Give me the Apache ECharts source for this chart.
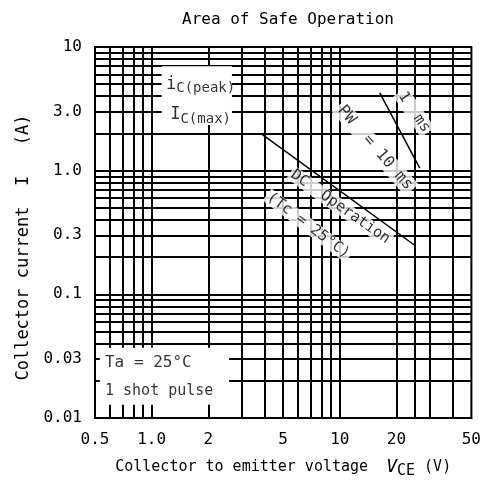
<!DOCTYPE html>
<html>
<head>
<meta charset="utf-8">
<script src="https://cdn.jsdelivr.net/npm/echarts@6/dist/echarts.min.js"></script>
<style>
html, body { margin: 0; padding: 0; background: #fff; }
#chart { width: 484px; height: 488px; }
</style>
</head>
<body>
<div id="chart"></div>
<script>
// tick labels
const xTicks = [0.5, 1, 2, 5, 10, 20, 50];
const xTickLabels = ['0.5', '1.0', '2', '5', '10', '20', '50'];
const yTicks = [0.01, 0.03, 0.1, 0.3, 1, 3, 10];
const yTickLabels = ['0.01', '0.03', '0.1', '0.3', '1.0', '3.0', '10'];

// grid lines of the printed log paper
const xGrid = [0.6, 0.7, 0.8, 0.9, 1, 2, 3, 4, 5, 6, 7, 8, 9, 10, 20, 25, 30, 40];
const yGrid = [0.02, 0.03, 0.04, 0.05, 0.06, 0.07, 0.08, 0.09, 0.1,
  0.2, 0.3, 0.4, 0.5, 0.6, 0.7, 0.8, 0.9, 1,
  2, 3, 4, 5, 6, 7, 8, 9];

// SOA boundaries (V, A)
const dcOperation = [[3.8, 2.0], [25.3, 0.246]];
const pulse1ms = [[16.3, 4.25], [26.6, 1.05]];

const FONT = "'DejaVu Sans Mono', monospace";

function pickLabel(v, ticks, labels) {
  let best = 0;
  for (let i = 1; i < ticks.length; i++) {
    if (Math.abs(Math.log10(ticks[i]) - Math.log10(v)) < Math.abs(Math.log10(ticks[best]) - Math.log10(v))) best = i;
  }
  return labels[best];
}

const chart = echarts.init(document.getElementById('chart'));

const subRich = {
  i: { fontSize: 17, fontFamily: FONT, color: '#000' },
  s: { fontSize: 14, fontFamily: FONT, color: '#000', padding: [9, 0, 0, 0] }
};

const option = {
  animation: false,
  backgroundColor: '#fff',
  textStyle: { fontFamily: FONT },
  title: {
    text: 'Area of Safe Operation',
    left: 283, top: 7, textAlign: 'center',
    textStyle: { fontSize: 16, fontWeight: 'normal', color: '#000', fontFamily: FONT }
  },
  grid: {
    left: 95, right: 10, top: 47, bottom: 70,
    show: true, borderColor: '#000', borderWidth: 2, backgroundColor: 'transparent'
  },
  xAxis: {
    type: 'log', logBase: 10, min: 0.5, max: 50,
    name: '{a|Collector to emitter voltage  }{v|V}{s|CE}{a| (V)}',
    nameLocation: 'middle', nameGap: 38,
    nameTextStyle: {
      rich: {
        a: { fontSize: 15, color: '#000', fontFamily: FONT },
        v: { fontSize: 18, color: '#000', fontFamily: FONT, fontStyle: 'italic' },
        s: { fontSize: 15, color: '#000', fontFamily: FONT, padding: [8, 0, 0, 0] }
      }
    },
    axisLine: { show: true, lineStyle: { color: '#000', width: 2 } },
    axisTick: { show: false },
    splitLine: { show: false },
    axisLabel: {
      customValues: xTicks, margin: 14, fontSize: 16, color: '#000', fontFamily: FONT,
      formatter: v => pickLabel(v, xTicks, xTickLabels)
    }
  },
  yAxis: {
    type: 'log', logBase: 10, min: 0.01, max: 10,
    name: 'Collector current  I   (A)',
    nameLocation: 'middle', nameGap: 60,
    nameTextStyle: { fontSize: 17, color: '#000', fontFamily: FONT, padding: [0, 0, 0, -30] },
    axisLine: { show: true, lineStyle: { color: '#000', width: 2 } },
    axisTick: { show: false },
    splitLine: { show: false },
    axisLabel: {
      customValues: yTicks, margin: 13, fontSize: 16, color: '#000', fontFamily: FONT,
      formatter: v => pickLabel(v, yTicks, yTickLabels)
    }
  },
  series: [
    {
      name: 'grid', type: 'line', z: 1, silent: true,
      data: [[1, 1]], showSymbol: false, lineStyle: { opacity: 0 },
      markLine: {
        z: 1, silent: true, symbol: ['none', 'none'], label: { show: false },
        lineStyle: { color: '#000', width: 2, type: 'solid' },
        data: xGrid.map(v => ({ xAxis: v })).concat(yGrid.map(v => ({ yAxis: v })))
      }
    },
    {
      name: 'boxes', type: 'line', z: 2, silent: true,
      data: [[1, 1]], showSymbol: false, lineStyle: { opacity: 0 },
      markArea: {
        z: 2, silent: true,
        itemStyle: { color: '#fff', opacity: 1 },
        data: [
          [{ xAxis: 0.53, yAxis: 0.037 }, { xAxis: 2.58, yAxis: 0.0128 }],
          [{ xAxis: 1.13, yAxis: 7.0 }, { xAxis: 2.67, yAxis: 2.34 }]
        ]
      }
    },
    {
      name: 'notes', type: 'scatter', z: 4, symbolSize: 0, silent: true,
      label: { show: true, color: '#000', fontFamily: FONT, fontSize: 15, position: 'inside' },
      data: [
        { value: [10.06, 0.509], label: { formatter: 'DC  Operation', rotate: -35, backgroundColor: '#fff', padding: [0, 2] } },
        { value: [6.8, 0.36], label: { formatter: '(Tc = 25\u00b0C)', rotate: -37, backgroundColor: '#fff', padding: [0, 2] } },
        { value: [15.4, 1.53], label: { formatter: 'PW  = 10 ms', rotate: -49, fontSize: 16, backgroundColor: '#fff', padding: [1, 3] } },
        { value: [24.8, 2.98], label: { formatter: '1  ms', rotate: -56, backgroundColor: '#fff', padding: [1, 2] } },
        { value: [1.82, 5.0], label: { formatter: '{i|i}{s|C(peak)}', rich: subRich } },
        { value: [1.82, 2.85], label: { formatter: '{i|I}{s|C(max)}', rich: subRich } },
        { value: [0.565, 0.0279], label: { formatter: 'Ta = 25\u00b0C', position: 'right', distance: 0, fontSize: 16 } },
        { value: [0.565, 0.0166], label: { formatter: '1 shot pulse', position: 'right', distance: 0, fontSize: 15 } }
      ]
    },
    {
      name: 'DC operation', type: 'line', z: 5, data: dcOperation,
      showSymbol: false, lineStyle: { color: '#000', width: 1.5 }
    },
    {
      name: '1 ms', type: 'line', z: 5, data: pulse1ms,
      showSymbol: false, lineStyle: { color: '#000', width: 1.5 }
    }
  ]
};

chart.setOption(option);
</script>
</body>
</html>
